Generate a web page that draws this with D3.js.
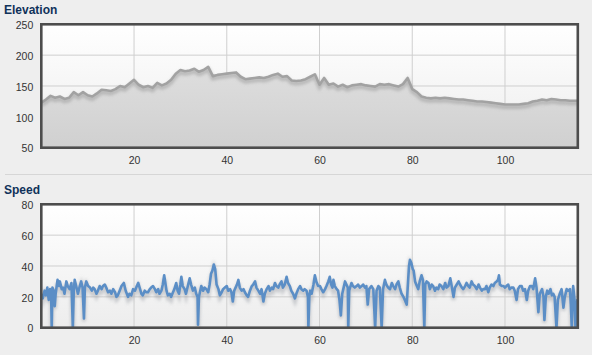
<!DOCTYPE html>
<html><head><meta charset="utf-8">
<script src="https://cdn.jsdelivr.net/npm/d3@7"></script>
<style>body{margin:0;background:#eeeeee;} svg{display:block;}</style>
</head><body><svg id="c" width="592" height="355"></svg>
<script>
// ---- data ----
const xTicks = [20, 40, 60, 80, 100];
const elevTicks = [50, 100, 150, 200, 250];
const speedTicks = [0, 20, 40, 60, 80];
const xMax = 115.7;
// elevation sampled every km (km 0..116)
const elevation = [123,128,134,131,133,129,131,140,135,140,135,133,138,144,143,142,145,150,148,154,
  160,152,148,150,147,155,151,154,160,170,176,174,175,178,173,176,181,166,168,169,
  170,171,172,165,161,162,163,164,163,165,168,170,165,166,159,158,159,161,165,169,
  152,163,152,154,149,152,148,151,152,153,151,150,149,153,152,153,151,149,153,163,
  145,140,133,131,130,131,130,131,130,129,128,128,127,126,125,125,124,123,122,121,
  120,120,120,120,121,122,125,126,128,127,129,128,127,127,126,126,126];
const speedKm = [0,0.3,0.7,1.0,1.3,1.6,1.9,2.1,2.25,2.4,2.7,2.9,3.1,3.5,3.8,4.0,4.4,4.7,5.0,5.4,5.7,6.1,6.5,6.8,7.0,7.2,7.6,7.9,8.3,8.6,8.9,9.2,9.4,9.7,10.1,10.5,10.9,11.2,11.5,11.9,12.2,12.6,13.0,13.3,13.7,14.0,14.4,14.8,15.1,15.5,15.9,16.2,16.5,16.9,17.3,17.8,18.2,18.7,19.0,19.4,19.8,20.2,20.6,20.9,21.3,21.6,21.9,22.3,22.6,23.0,23.4,23.7,24.1,24.5,24.8,25.2,25.5,25.9,26.2,26.5,26.8,27.0,27.3,27.7,28.0,28.4,28.7,29.1,29.4,29.7,30.0,30.2,30.5,30.9,31.2,31.6,32.0,32.3,32.7,33.1,33.4,33.7,33.8,34.0,34.5,34.9,35.2,35.6,36.0,36.3,36.6,36.9,37.2,37.5,37.8,38.2,38.5,38.9,39.2,39.6,40.0,40.3,40.7,41.0,41.3,41.6,41.9,42.2,42.5,42.8,43.2,43.6,43.9,44.3,44.6,45.0,45.4,45.7,46.1,46.4,46.8,47.2,47.5,47.9,48.2,48.6,49.0,49.3,49.7,50.0,50.4,50.7,51.1,51.4,51.8,52.1,52.5,52.9,53.2,53.6,53.9,54.3,54.7,55.0,55.4,55.8,56.1,56.5,56.8,57.2,57.5,57.6,57.8,58.0,58.3,58.7,59.0,59.3,59.7,60.1,60.4,60.8,61.2,61.5,61.9,62.2,62.5,62.8,63.0,63.3,63.7,64.0,64.3,64.6,64.9,65.2,65.5,65.8,66.1,66.2,66.4,66.9,67.2,67.6,68.0,68.3,68.7,69.1,69.4,69.8,70.1,70.4,70.7,71.2,71.6,72.0,72.3,72.7,73.0,73.4,73.7,74.1,74.4,74.8,75.2,75.6,75.9,76.3,76.6,77.0,77.3,77.7,78.1,78.4,78.8,79.1,79.3,79.5,79.8,80.1,80.3,80.6,81.0,81.3,81.6,82.0,82.3,82.6,82.8,83.1,83.5,83.8,84.2,84.5,84.9,85.2,85.6,85.9,86.3,86.7,87.1,87.4,87.8,88.2,88.5,88.9,89.2,89.6,90.0,90.3,90.7,91.0,91.4,91.7,92.1,92.4,92.8,93.1,93.5,93.9,94.3,94.6,95.0,95.3,95.7,96.0,96.4,96.7,97.1,97.5,97.8,98.2,98.5,98.7,98.9,99.3,99.7,100.0,100.3,100.7,101.0,101.4,101.8,102.1,102.5,102.8,103.2,103.6,103.9,104.3,104.7,105.0,105.4,105.8,106.1,106.5,106.8,107.2,107.5,108.0,108.3,108.5,108.8,109.1,109.4,109.8,110.1,110.4,110.7,111.1,111.4,111.8,112.2,112.6,112.9,113.3,113.6,114.0,114.2,114.4,114.6,114.7,115.0,115.2,115.4,115.6,115.7];
const speedVal = [22,19,24,21,26,18,25,24,0,26,24,14,22,31,27,30,25,26,22,30,27,25,29,0,24,31,26,22,27,30,26,6,26,30,27,26,24,26,25,22,24,27,25,27,28,26,23,24,22,25,23,20,21,24,27,29,24,20,22,21,25,24,27,29,25,22,21,24,23,23,25,26,27,25,23,25,22,24,28,34,28,24,21,22,20,23,25,29,24,22,28,33,27,25,22,27,32,28,24,26,22,20,2,20,27,24,26,25,23,28,35,37,41,38,28,25,21,23,25,26,27,24,25,23,17,24,26,28,31,26,24,25,23,21,20,24,27,28,30,26,24,22,25,17,22,25,27,24,26,25,29,27,26,28,30,26,28,33,29,27,24,22,19,22,25,27,25,24,25,24,20,0,20,24,22,28,34,30,27,27,25,23,25,27,30,33,28,26,31,27,25,24,18,8,22,26,30,28,26,0,24,29,27,26,27,28,26,27,28,26,27,15,25,27,25,0,24,27,26,0,25,31,28,26,25,29,27,25,28,30,26,22,20,18,15,30,40,44,42,38,37,30,27,25,30,34,31,0,28,30,29,25,28,27,24,26,25,28,27,25,29,26,27,32,27,20,26,28,30,28,26,25,27,29,27,26,30,28,27,25,28,26,24,25,25,27,23,26,28,27,29,30,31,34,28,27,27,26,27,28,25,26,26,24,18,25,27,27,24,25,18,24,27,27,25,32,26,10,22,25,20,5,20,24,22,25,21,22,20,0,18,22,25,13,20,25,24,25,15,0,20,27,18,0,10,18,17];

// ---- layout ----
const L = 41.3, R = 577.8;
const svg = d3.select('#c');
const defs = svg.append('defs');
const bg = defs.append('linearGradient').attr('id','bg').attr('x1',0).attr('y1',0).attr('x2',0).attr('y2',1);
bg.append('stop').attr('offset','0%').attr('stop-color','#ffffff');
bg.append('stop').attr('offset','100%').attr('stop-color','#ededed');
const ag = defs.append('linearGradient').attr('id','ag').attr('x1',0).attr('y1',0).attr('x2',0).attr('y2',1);
ag.append('stop').attr('offset','0%').attr('stop-color','#dedede');
ag.append('stop').attr('offset','100%').attr('stop-color','#d0d0d0');
const blur = defs.append('filter').attr('id','blur').attr('x','-5%').attr('y','-20%').attr('width','110%').attr('height','140%');
blur.append('feGaussianBlur').attr('stdDeviation',1.4);

svg.append('line').attr('x1',5).attr('x2',592).attr('y1',174.5).attr('y2',174.5)
  .attr('stroke','#d6d6d6').attr('stroke-width',1);

function panel(top, bottom, yDomain, yTicks, title, titleY, drawFn, id) {
  const x = d3.scaleLinear().domain([0, xMax]).range([L, R]);
  const y = d3.scaleLinear().domain(yDomain).range([bottom, top]);
  svg.append('text').attr('x',4).attr('y',titleY).text(title)
    .attr('font-family','Arial, Liberation Sans, sans-serif').attr('font-weight','bold')
    .attr('font-size','12px').attr('fill','#10325a');
  defs.append('clipPath').attr('id','clip'+id).append('rect')
    .attr('x',L).attr('y',top).attr('width',R-L).attr('height',bottom-top);
  svg.append('rect').attr('x',L).attr('y',top).attr('width',R-L).attr('height',bottom-top).attr('fill','url(#bg)');
  const g = svg.append('g').attr('clip-path','url(#clip'+id+')');
  const grid = svg.append('g');
  // y axis
  const ya = svg.append('g').attr('transform',`translate(${L-2},0)`)
    .call(d3.axisLeft(y).tickValues(yTicks).tickSize(0).tickPadding(6));
  ya.select('.domain').remove();
  ya.selectAll('text').attr('font-family','Arial, Liberation Sans, sans-serif').attr('font-size','10.5px').attr('fill','#333').attr('dy','0.4em');
  const xa = svg.append('g').attr('transform',`translate(0,${bottom+2})`)
    .call(d3.axisBottom(x).tickValues(xTicks).tickSize(0).tickPadding(7));
  xa.select('.domain').remove();
  xa.selectAll('text').attr('font-family','Arial, Liberation Sans, sans-serif').attr('font-size','10.5px').attr('fill','#333');
  // grid
  g.selectAll('.hg').data(yTicks).enter().append('line')
    .attr('x1',L).attr('x2',R).attr('y1',d=>y(d)).attr('y2',d=>y(d))
    .attr('stroke','#cfcfcf').attr('stroke-width',1);
  g.selectAll('.vg').data(xTicks).enter().append('line')
    .attr('x1',d=>x(d)).attr('x2',d=>x(d)).attr('y1',top).attr('y2',bottom)
    .attr('stroke','#cfcfcf').attr('stroke-width',1);
  drawFn(g, x, y);
  svg.append('rect').attr('x',L).attr('y',top).attr('width',R-L).attr('height',bottom-top)
    .attr('fill','none').attr('stroke','#4d4d4d').attr('stroke-width',2.6);
}

panel(24.3, 147.7, [50, 250], elevTicks, 'Elevation', 14, (g, x, y) => {
  const area = d3.area().x((d,i)=>x(i)).y0(y(50)).y1(d=>y(d));
  const line = d3.line().x((d,i)=>x(i)).y(d=>y(d));
  g.append('path').datum(elevation).attr('d',area).attr('fill','url(#ag)');
  g.append('path').datum(elevation).attr('d',line).attr('fill','none')
    .attr('stroke','#8c8c8c').attr('stroke-opacity',0.45).attr('stroke-width',4)
    .attr('transform','translate(0,2.5)').attr('filter','url(#blur)');
  g.append('path').datum(elevation).attr('d',line).attr('fill','none')
    .attr('stroke','#a2a2a2').attr('stroke-width',2.6).attr('stroke-linejoin','round');
}, 'e');

panel(204.3, 327.7, [0, 80], speedTicks, 'Speed', 194, (g, x, y) => {
  const pts = speedKm.map((k,i)=>[k, speedVal[i]]);
  const line = d3.line().x(d=>x(d[0])).y(d=>y(d[1]));
  g.append('path').datum(pts).attr('d',line).attr('fill','none')
    .attr('stroke','#8a8f98').attr('stroke-opacity',0.4).attr('stroke-width',4)
    .attr('transform','translate(0,3)').attr('filter','url(#blur)');
  g.append('path').datum(pts).attr('d',line).attr('fill','none')
    .attr('stroke','#5b8ec6').attr('stroke-width',2.6).attr('stroke-linejoin','round');
}, 's');
</script></body></html>
